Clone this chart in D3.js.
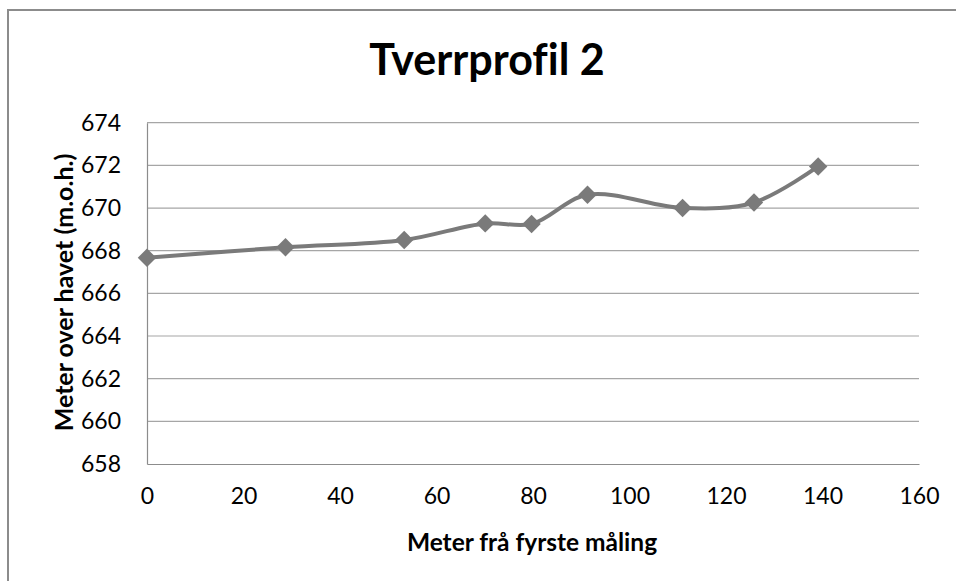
<!DOCTYPE html>
<html><head><meta charset="utf-8">
<script src="https://cdn.jsdelivr.net/npm/d3@7"></script>
<style>
html,body{margin:0;padding:0;background:#fff;}
svg{display:block;font-family:Lato,"Open Sans",sans-serif;font-variant-ligatures:none;}
</style></head>
<body>
<svg id="chart" width="956" height="581"></svg>
<script>
const distances = [0, 28.7, 53.3, 70.1, 79.7, 91.3, 111.0, 125.8, 139.1];
const heights = [667.67, 668.16, 668.5, 669.28, 669.25, 670.62, 670.0, 670.26, 671.95];
const xTicks = [0, 20, 40, 60, 80, 100, 120, 140, 160];
const yTicks = [658, 660, 662, 664, 666, 668, 670, 672, 674];
const title = "Tverrprofil 2";
const xLabel = "Meter frå fyrste måling";
const yLabel = "Meter over havet (m.o.h.)";

(function () {
const svg = d3.select("#chart");
const pLeft = 147, pRight = 919, pTop = 122.7, pBottom = 464;
const x = d3.scaleLinear().domain([0, 160]).range([pLeft, pRight]);
const y = d3.scaleLinear().domain([658, 674]).range([pBottom, pTop]);

// outer chart border
svg.append("rect").attr("x", 8).attr("y", 10).attr("width", 960).attr("height", 600)
  .attr("fill", "none").attr("stroke", "#8c8c8c").attr("stroke-width", 2);

// gridlines
svg.append("g").selectAll("line").data(yTicks.slice(1)).join("line")
  .attr("x1", pLeft).attr("x2", pRight)
  .attr("y1", d => y(d)).attr("y2", d => y(d))
  .attr("stroke", "#a6a6a6").attr("stroke-width", 1.2);

// axes
const xAxis = svg.append("g").attr("transform", `translate(0,${pBottom})`)
  .call(d3.axisBottom(x).tickValues(xTicks).tickSize(0).tickPadding(24).tickFormat(d3.format("d")));
const yAxis = svg.append("g").attr("transform", `translate(${pLeft},0)`)
  .call(d3.axisLeft(y).tickValues(yTicks).tickSize(0).tickPadding(26).tickFormat(d3.format("d")));
[xAxis, yAxis].forEach(g => {
  g.select(".domain").attr("stroke", "#8c8c8c").attr("stroke-width", 1.2);
  g.selectAll("text").attr("font-size", 23).attr("fill", "#000").attr("font-family", "Lato, 'Open Sans', sans-serif");
});

// line
const line = d3.line().x((d, i) => x(distances[i])).y(d => y(d)).curve(d3.curveCatmullRom.alpha(0.5));
svg.append("path").datum(heights).attr("d", line)
  .attr("fill", "none").attr("stroke", "#7a7a7a").attr("stroke-width", 4);

// diamond markers
const sym = d3.symbol().type(d3.symbolSquare).size(170);
svg.append("g").selectAll("path").data(heights).join("path")
  .attr("d", sym)
  .attr("transform", (d, i) => `translate(${x(distances[i])},${y(d)}) rotate(45)`)
  .attr("fill", "#7a7a7a");

// title
svg.append("text").attr("x", 487).attr("y", 75).attr("text-anchor", "middle")
  .attr("font-size", 43).attr("font-weight", "bold").attr("fill", "#000").text(title);

// axis labels
svg.append("text").attr("x", 532).attr("y", 551).attr("text-anchor", "middle")
  .attr("font-size", 24.5).attr("font-weight", "bold").attr("fill", "#000").text(xLabel);
svg.append("text").attr("transform", "translate(73,292.5) rotate(-90)").attr("text-anchor", "middle")
  .attr("font-size", 25).attr("font-weight", "bold").attr("fill", "#000").text(yLabel);
})();
</script>
</body></html>
